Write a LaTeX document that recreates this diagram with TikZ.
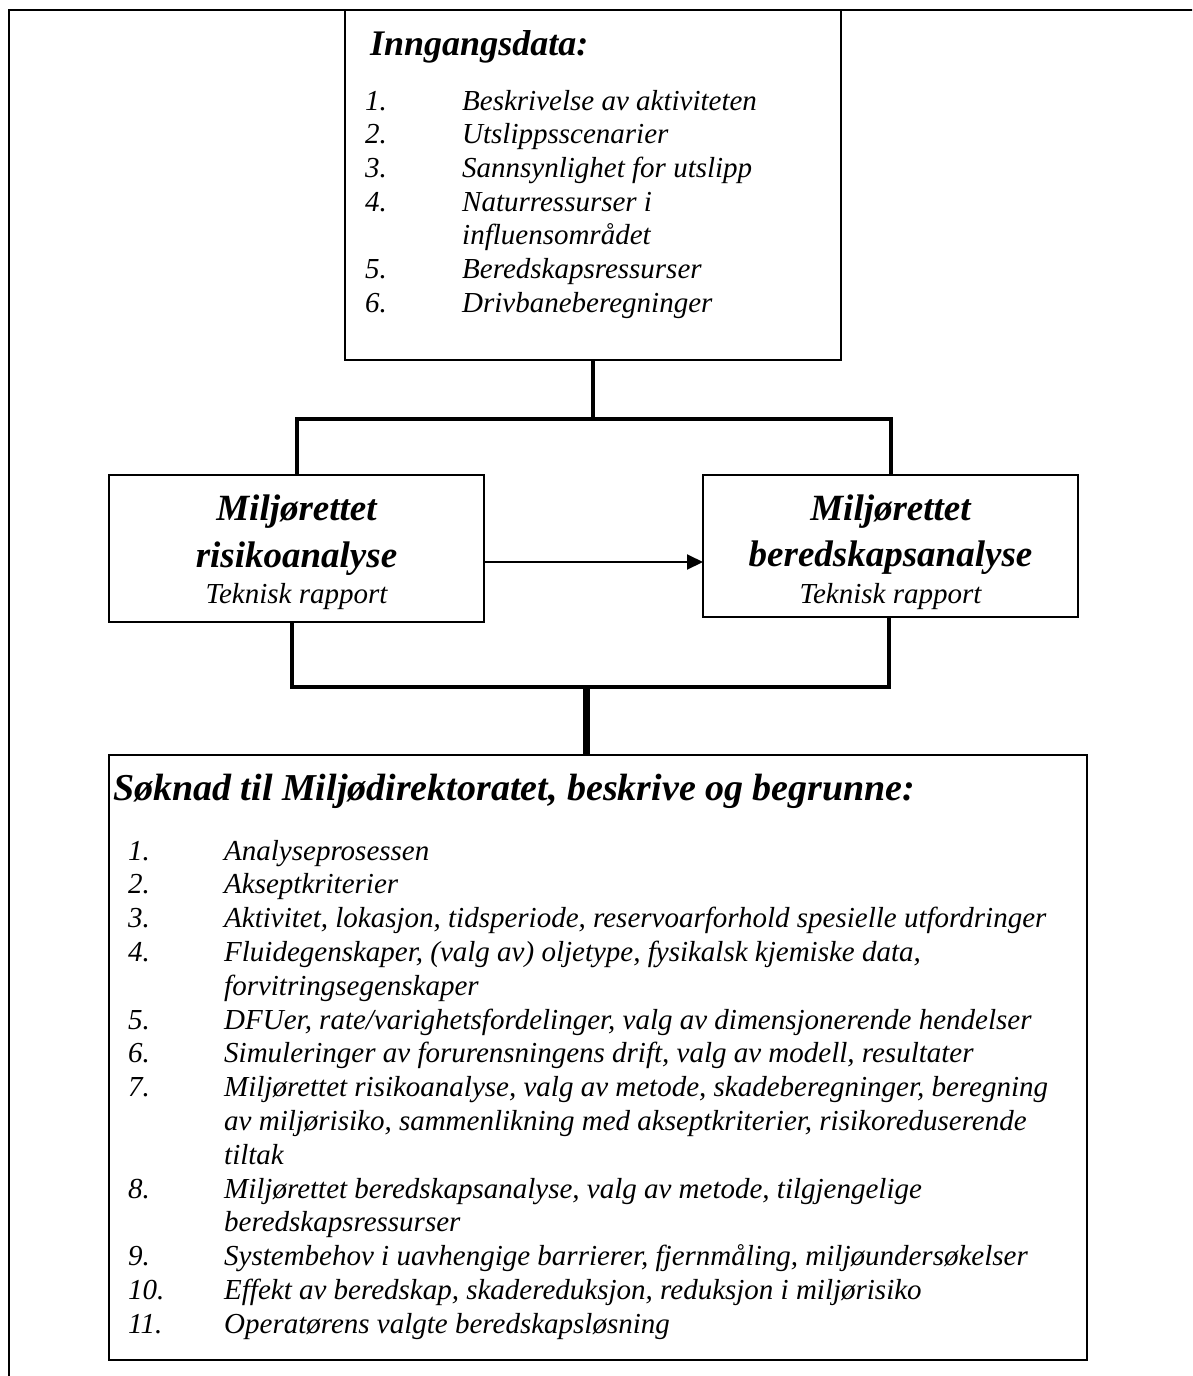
\documentclass[tikz,border=0pt]{standalone}
\usepackage{fontspec}
\setmainfont{Liberation Serif}
\usetikzlibrary{arrows.meta}
\begin{document}
\begin{tikzpicture}[x=1pt,y=-1pt,
  box/.style={draw=black,line width=2pt,inner sep=0pt,outer sep=0pt,fill=white},
  lst/.style={anchor=base west,inner sep=0pt,font=\fontsize{29}{34}\selectfont\itshape},
  hd/.style={anchor=base west,inner sep=0pt,font=\fontsize{36}{42}\selectfont\bfseries\itshape},
  bt/.style={anchor=base,inner sep=0pt,font=\fontsize{37}{42}\selectfont\bfseries\itshape},
  st/.style={anchor=base,inner sep=0pt,font=\fontsize{29}{34}\selectfont\itshape},
  conn/.style={line width=4pt,line join=miter},
  arr/.style={line width=2pt,-{Triangle[length=16pt 0,width=15pt 0]}}
]
\useasboundingbox (0,0) rectangle (1192,1376);
\begin{scope}
  \clip (0,0) rectangle (1192,1376);
  \draw[line width=2pt] (9,1400) -- (9,9.5) -- (1200,9.5);
\end{scope}

% boxes
\node[box,minimum width=496pt,minimum height=350pt] (top) at (593,185) {};
\node[box,minimum width=375pt,minimum height=147pt] (left) at (296.5,548.5) {};
\node[box,minimum width=375pt,minimum height=142pt] (right) at (890.5,546) {};
\node[box,minimum width=978pt,minimum height=605pt] (bot) at (598,1057.5) {};

% connectors
\coordinate (jt) at (593,419);
\draw[conn] (top.south) -- (jt);
\draw[conn] (left.north) -- (left.north |- jt) -- (right.north |- jt) -- (right.north);
\draw[arr] (left.east |- 0,562) -- (right.west |- 0,562);
\coordinate (jb) at (586,687);
\draw[conn] (left.south -| 292,0) -- (292,687) -- (889,687) -- (right.south -| 889,0);
\draw[line width=7pt] (jb) -- (bot.north -| jb);

% top box text
\node[hd] (th) at (370,55) {Inngangsdata:};
\node[lst] (tn1) at (365,110) {1.};   \node[lst] (tt1) at (462,110) {Beskrivelse av aktiviteten};
\node[lst] (tn2) at (365,143.7) {2.}; \node[lst] (tt2) at (462,143.7) {Utslippsscenarier};
\node[lst] (tn3) at (365,177.4) {3.}; \node[lst] (tt3) at (462,177.4) {Sannsynlighet for utslipp};
\node[lst] (tn4) at (365,211.1) {4.}; \node[lst] (tt4) at (462,211.1) {Naturressurser i};
\node[lst] (tt4b) at (462,244.8) {influensområdet};
\node[lst] (tn5) at (365,278.5) {5.}; \node[lst] (tt5) at (462,278.5) {Beredskapsressurser};
\node[lst] (tn6) at (365,312.2) {6.}; \node[lst] (tt6) at (462,312.2) {Drivbaneberegninger};

% middle boxes text
\node[bt] (l1) at (296.5,520) {Miljørettet};
\node[bt] (l2) at (296.5,567) {risikoanalyse};
\node[st] (l3) at (296.5,603) {Teknisk rapport};
\node[bt] (r1) at (890.5,520) {Miljørettet};
\node[bt] (r2) at (890.5,566) {beredskapsanalyse};
\node[st] (r3) at (890.5,603) {Teknisk rapport};

% bottom box text
\node[hd,font=\fontsize{38}{44}\selectfont\bfseries\itshape] (bh) at (113,800) {Søknad til Miljødirektoratet, beskrive og begrunne:};
\node[lst] (bn1) at (128,860) {1.};    \node[lst] (bt1) at (224,860) {Analyseprosessen};
\node[lst] (bn2) at (128,893.8) {2.};  \node[lst] (bt2) at (224,893.8) {Akseptkriterier};
\node[lst] (bn3) at (128,927.6) {3.};  \node[lst] (bt3) at (224,927.6) {Aktivitet, lokasjon, tidsperiode, reservoarforhold spesielle utfordringer};
\node[lst] (bn4) at (128,961.4) {4.};  \node[lst] (bt4) at (224,961.4) {Fluidegenskaper, (valg av) oljetype, fysikalsk kjemiske data,};
\node[lst] (bt4b) at (224,995.2) {forvitringsegenskaper};
\node[lst] (bn5) at (128,1029) {5.};   \node[lst] (bt5) at (224,1029) {DFUer, rate/varighetsfordelinger, valg av dimensjonerende hendelser};
\node[lst] (bn6) at (128,1062.8) {6.}; \node[lst] (bt6) at (224,1062.8) {Simuleringer av forurensningens drift, valg av modell, resultater};
\node[lst] (bn7) at (128,1096.6) {7.}; \node[lst] (bt7) at (224,1096.6) {Miljørettet risikoanalyse, valg av metode, skadeberegninger, beregning};
\node[lst] (bt7b) at (224,1130.4) {av miljørisiko, sammenlikning med akseptkriterier, risikoreduserende};
\node[lst] (bt7c) at (224,1164.2) {tiltak};
\node[lst] (bn8) at (128,1198) {8.};   \node[lst] (bt8) at (224,1198) {Miljørettet beredskapsanalyse, valg av metode, tilgjengelige};
\node[lst] (bt8b) at (224,1231.8) {beredskapsressurser};
\node[lst] (bn9) at (128,1265.6) {9.}; \node[lst] (bt9) at (224,1265.6) {Systembehov i uavhengige barrierer, fjernmåling, miljøundersøkelser};
\node[lst] (bn10) at (128,1299.4) {10.}; \node[lst] (bt10) at (224,1299.4) {Effekt av beredskap, skadereduksjon, reduksjon i miljørisiko};
\node[lst] (bn11) at (128,1333.2) {11.}; \node[lst] (bt11) at (224,1333.2) {Operatørens valgte beredskapsløsning};
\end{tikzpicture}
\end{document}
